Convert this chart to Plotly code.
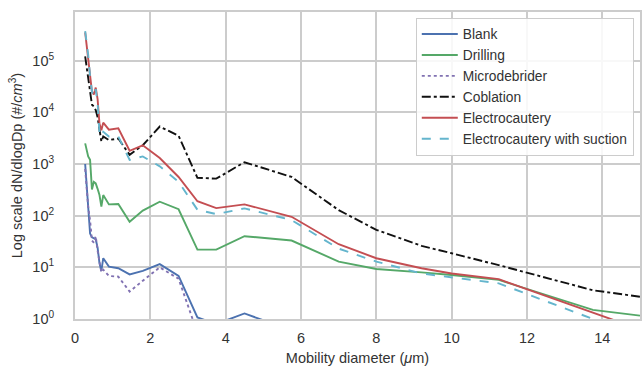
import plotly.graph_objects as go

x_left = [0.27, 0.35, 0.4, 0.45, 0.5, 0.55, 0.6, 0.65, 0.7, 0.75, 0.9, 1.15,
          1.45, 1.8, 2.25, 2.75, 3.25, 3.75, 4.5, 5.75, 7.0, 8.0, 9.2, 10.0, 11.25, 13.75, 15.0]

blank = [1000, 190, 45, 38, 36, 35, 24, 12, 8.5, 15, 10.3, 9.6,
         7.3, 8.5, 11.5, 6.8, 1.07, 0.8, 1.28, 0.6, 0.35, 0.3, 0.28, 0.25, 0.2, 0.15, 0.12]
drilling = [2500, 1400, 1200, 320, 450, 420, 330, 250, 150, 250, 165, 168,
            76, 125, 186, 133, 22, 22, 40, 33, 12.9, 9.3, 8.0, 7.1, 5.7, 1.5, 1.16]
microdebrider = [800, 150, 80, 33, 30, 40, 21, 12, 8, 9, 6.8, 6.6,
                 3.4, 5.5, 10, 6.0, 0.54, 0.4, 0.35, 0.3, 0.25, 0.2, 0.18, 0.15, 0.12, 0.1, 0.1]
coblation = [120000, 50000, 30000, 14000, 13000, 11000, 8000, 4200, 2700, 3400, 2900, 3100,
             1500, 2300, 5300, 3500, 540, 520, 1080, 560, 128, 53, 26, 18.7, 11, 3.6, 2.7]
electrocautery = [350000, 120000, 50000, 25000, 22000, 30000, 18000, 6000, 4500, 6300, 4600, 4900,
                  1800, 2300, 1300, 560, 190, 140, 165, 95, 28, 15, 9.6, 7.6, 5.9, 1.3, 0.63]
electro_suction = [370000, 130000, 50000, 25000, 20000, 28000, 15000, 4000, 3400, 4200, 3400, 3400,
                   1200, 1400, 900, 450, 130, 107, 138, 82, 23, 12.9, 7.6, 6.4, 4.9, 1.0, 0.45]

names = ["Blank", "Drilling", "Microdebrider", "Coblation", "Electrocautery", "Electrocautery with suction"]
series = [blank, drilling, microdebrider, coblation, electrocautery, electro_suction]
colors = ["#4C72B0", "#55A868", "#8172B2", "#111111", "#C44E52", "#64B5CD"]
dashes = ["solid", "solid", "dot", "dashdot", "solid", "dash"]

fig = go.Figure()
for n, s, c, d in zip(names, series, colors, dashes):
    fig.add_trace(go.Scatter(x=x_left, y=s, name=n, mode="lines",
                             line=dict(color=c, width=1.9, dash=d)))

FAM = "Liberation Sans, Arial, sans-serif"
font = dict(family=FAM, size=14.5, color="#333333")
fig.update_layout(
    width=643, height=373,
    margin=dict(l=75, r=1, t=12, b=54),
    paper_bgcolor="white", plot_bgcolor="white",
    font=font,
    showlegend=True,
    legend=dict(x=0.989, y=0.982, xanchor="right", yanchor="top",
                bgcolor="rgba(255,255,255,0.85)", bordercolor="#cccccc", borderwidth=1,
                font=dict(family=FAM, size=13.8, color="#333333"),
                tracegroupgap=0, itemwidth=36),
)
fig.update_xaxes(range=[0, 15], tickvals=[0, 2, 4, 6, 8, 10, 12, 14],
                 showgrid=True, gridcolor="#cccccc", gridwidth=1.5,
                 showline=True, linecolor="#cccccc", linewidth=2, mirror=True,
                 zeroline=False, ticks="", ticklabelstandoff=5,
                 tickfont=dict(family=FAM, size=14.5, color="#333333"),
                 title=dict(text="Mobility diameter (<i>μ</i>m)", standoff=7,
                            font=dict(family=FAM, size=14.5, color="#333333")))
fig.update_yaxes(type="log", range=[0, 5.94], tickvals=[1, 10, 100, 1000, 10000, 100000],
                 ticktext=["10<sup>0</sup>", "10<sup>1</sup>", "10<sup>2</sup>",
                           "10<sup>3</sup>", "10<sup>4</sup>", "10<sup>5</sup>"],
                 showgrid=True, gridcolor="#cccccc", gridwidth=1.5,
                 showline=True, linecolor="#cccccc", linewidth=2, mirror=True,
                 zeroline=False, ticks="", ticklabelstandoff=16,
                 tickfont=dict(family=FAM, size=14.5, color="#333333"),
                 title=dict(text="Log scale dN/dlogDp (#/<i>cm</i><sup>3</sup>)", standoff=6,
                            font=dict(family=FAM, size=14.5, color="#333333")))

fig.write_html("out.html")
